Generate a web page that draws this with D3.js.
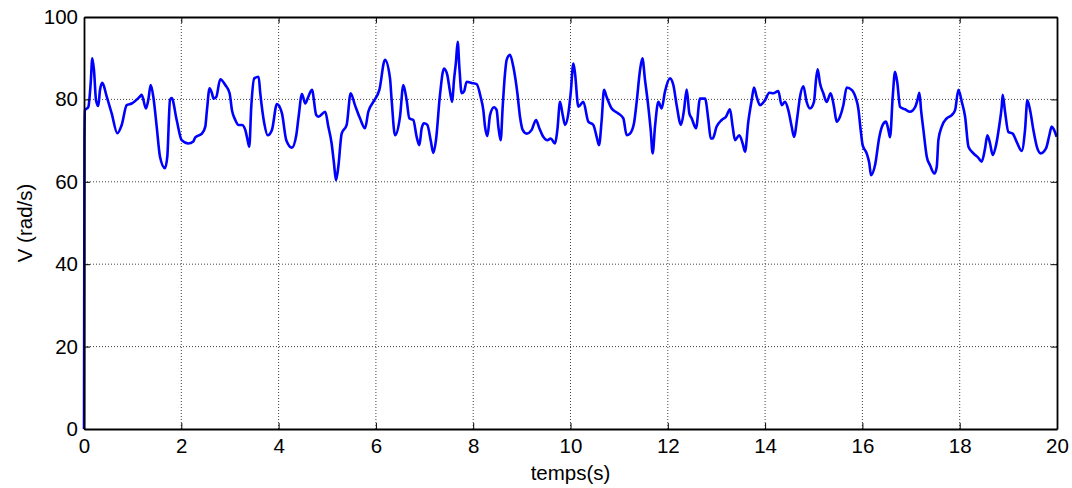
<!DOCTYPE html>
<html>
<head>
<meta charset="utf-8">
<script src="https://cdn.jsdelivr.net/npm/d3@7"></script>
<style>
    body { margin: 0; background: #fff; }
    svg { display: block; font-family: "Liberation Sans", Arial, sans-serif; }
</style>
</head>
<body>
<div id="chart"></div>
<script>
// Axis ticks
const xTicks = [0, 2, 4, 6, 8, 10, 12, 14, 16, 18, 20];
const yTicks = [0, 20, 40, 60, 80, 100];

// Speed signal: time (s) and V (rad/s)
const timeValues = [
    0, 0.01, 0.02, 0.088, 0.138, 0.171, 0.206, 0.247, 0.294, 0.329, 0.376, 0.467, 0.569, 0.684, 0.775, 0.878,
    0.98, 1.151, 1.186, 1.274, 1.322, 1.371, 1.424, 1.494, 1.562, 1.665, 1.712, 1.768, 1.803, 1.905, 2.008,
    2.144, 2.247, 2.287, 2.424, 2.493, 2.527, 2.582, 2.63, 2.664, 2.719, 2.801, 2.904, 2.993, 3.041, 3.11,
    3.178, 3.247, 3.315, 3.363, 3.397, 3.438, 3.5, 3.589, 3.623, 3.705, 3.774, 3.863, 3.966, 4.069, 4.158,
    4.274, 4.363, 4.411, 4.48, 4.548, 4.596, 4.685, 4.774, 4.822, 4.959, 5.022, 5.09, 5.138, 5.179, 5.227,
    5.296, 5.399, 5.481, 5.57, 5.673, 5.776, 5.844, 5.947, 6.071, 6.187, 6.29, 6.324, 6.393, 6.495, 6.564,
    6.632, 6.687, 6.769, 6.838, 6.893, 6.941, 6.989, 7.057, 7.126, 7.181, 7.235, 7.317, 7.4, 7.468, 7.523,
    7.568, 7.605, 7.646, 7.681, 7.715, 7.763, 7.811, 7.866, 7.968, 8.071, 8.153, 8.208, 8.243, 8.291, 8.346,
    8.428, 8.482, 8.517, 8.565, 8.606, 8.654, 8.688, 8.757, 8.825, 8.908, 8.962, 9.017, 9.099, 9.202, 9.291,
    9.36, 9.442, 9.524, 9.593, 9.682, 9.73, 9.785, 9.84, 9.888, 9.956, 10.004, 10.059, 10.093, 10.161, 10.264,
    10.366, 10.469, 10.538, 10.586, 10.641, 10.689, 10.743, 10.846, 10.983, 11.086, 11.154, 11.223, 11.305,
    11.36, 11.429, 11.477, 11.532, 11.6, 11.648, 11.689, 11.737, 11.806, 11.874, 11.942, 12.045, 12.114,
    12.182, 12.271, 12.333, 12.388, 12.443, 12.491, 12.58, 12.662, 12.765, 12.834, 12.882, 12.922, 13.004,
    13.107, 13.196, 13.278, 13.333, 13.381, 13.47, 13.539, 13.587, 13.655, 13.724, 13.772, 13.827, 13.895,
    13.998, 14.087, 14.169, 14.272, 14.34, 14.409, 14.477, 14.546, 14.594, 14.663, 14.717, 14.786, 14.854,
    14.923, 15.005, 15.046, 15.081, 15.128, 15.197, 15.265, 15.348, 15.416, 15.471, 15.539, 15.608, 15.677,
    15.779, 15.868, 15.916, 15.964, 16.005, 16.088, 16.142, 16.177, 16.259, 16.348, 16.417, 16.485, 16.534,
    16.568, 16.623, 16.671, 16.719, 16.774, 16.877, 16.98, 17.083, 17.131, 17.172, 17.206, 17.254, 17.323,
    17.391, 17.48, 17.528, 17.562, 17.631, 17.734, 17.837, 17.905, 17.974, 18.043, 18.111, 18.18, 18.283,
    18.384, 18.452, 18.521, 18.569, 18.624, 18.678, 18.747, 18.815, 18.863, 18.884, 18.932, 19.0, 19.089,
    19.171, 19.274, 19.343, 19.391, 19.453, 19.514, 19.596, 19.665, 19.774, 19.843, 19.891, 19.939, 19.993
];
const speedValues = [
    0, 70, 77.4, 78.1, 84, 90, 87, 79.8, 78.4, 82.3, 84, 80.7, 76.6, 71.8, 73.8, 78.6,
    79, 80.7, 81.1, 77.8, 79.9, 83.5, 80.7, 73.4, 66.1, 63.3, 66.1, 79.9, 80.3, 75, 70.1,
    69.3, 69.8, 70.8, 71.7, 73.4, 77.4, 82.7, 81.5, 80.2, 80.6, 84.9, 83.5, 81.5, 77.4, 75,
    73.8, 73.8, 72.6, 70.1, 68.5, 78.2, 85.1, 85.5, 81.5, 74.2, 71.3, 72.6, 78.9, 76.6, 70.1,
    68.3, 71.3, 75.8, 81.3, 79, 80.2, 82.3, 76.2, 75.8, 77, 73.4, 69.3, 64.5, 60.4, 63.6,
    71.7, 73.8, 81.5, 78.6, 75.4, 73, 77, 79.4, 82.3, 89.6, 85.1, 79.8, 71.3, 75.8, 83.5,
    79.8, 75.4, 75, 70.9, 68.9, 73, 74.2, 73.8, 70.1, 67, 70.1, 81.1, 87.5, 85.9, 81.9,
    79.4, 84.7, 89.1, 94, 87.9, 81.5, 81.9, 84.3, 84, 83.7, 80.6, 77.4, 73.4, 71.1, 76.2,
    78.1, 77.4, 73.4, 70.1, 78.2, 86.3, 89.6, 90.8, 87.9, 81.5, 75.8, 72.6, 71.7, 72.6, 75,
    73, 70.9, 70.1, 70.5, 69.3, 72.6, 79.4, 76.2, 73.8, 76.6, 81.5, 88.7, 86.3, 78.2, 79.4,
    74.6, 73.8, 70.9, 68.9, 75, 82.3, 80.6, 77.8, 76.6, 75.4, 71.3, 71.7, 74.2,
    79.4, 87.1, 90, 84.7, 78.2, 72.6, 66.9, 73.4, 79.4, 77.8, 81.9, 85.1, 83.5,
    78.6, 73.8, 77.4, 82.4, 76.6, 75.4, 73, 80.2, 80.2, 75, 70.5, 70.5, 73.4,
    75, 75.8, 77.6, 73.4, 70.1, 71.3, 69.3, 67.3, 74.6, 79.8, 82.9, 80.6, 78.6,
    79.8, 81.6, 81.5, 82, 78.6, 79.4, 77.4, 73.4, 70.9, 75.8, 80.6, 83.2, 79.4,
    77.8, 79.4, 84.7, 87.3, 83.9, 81.5, 79.4, 81.5, 78.2, 74.6, 75.8, 78.6, 82.9,
    82.3, 80.2, 77.8, 72.6, 68.9, 66.9, 64.5, 61.6, 64, 70.9, 73.8, 74.6, 72.6,
    70.8, 80.6, 86.7, 83.9, 78.2, 77.6, 77, 78.1, 79.8, 81.6, 77.4, 72.6, 66.1,
    64, 62, 63.6, 70.1, 73.4, 75.4, 76.2, 77.4, 82.3, 79.4, 75.8, 68.5, 66.9,
    65.8, 64.9, 68.1, 71.3, 69.3, 66.5, 68.9, 73.8, 78.2, 81.1, 77, 72.1, 71.7,
    69.7, 67.5, 72.6, 79.8, 77, 72.6, 68.1, 66.9, 68.1, 71.3, 73.4, 72.6, 70.9
];

const xLabel = "temps(s)";
const yLabel = "V (rad/s)";

const series = timeValues.map((t, i) => ({ t: t, v: speedValues[i] }));

const totalWidth = 1072, totalHeight = 488;
const margin = { top: 17, right: 15, bottom: 59, left: 84 };
const width = totalWidth - margin.left - margin.right;
const height = totalHeight - margin.top - margin.bottom;

const svg = d3.select("#chart").append("svg")
    .attr("width", totalWidth)
    .attr("height", totalHeight)
    .append("g")
    .attr("transform", `translate(${margin.left},${margin.top})`);

const xScale = d3.scaleLinear().domain([0, 20]).range([0, width]);
const yScale = d3.scaleLinear().domain([0, 100]).range([height, 0]);

// Dotted grid
svg.append("g")
    .selectAll("line")
    .data(xTicks.slice(1, -1))
    .join("line")
    .attr("x1", d => xScale(d)).attr("x2", d => xScale(d))
    .attr("y1", 0).attr("y2", height)
    .attr("stroke", "#444")
    .attr("stroke-width", 1)
    .attr("stroke-dasharray", "1,2");

svg.append("g")
    .selectAll("line")
    .data(yTicks.slice(1, -1))
    .join("line")
    .attr("x1", 0).attr("x2", width)
    .attr("y1", d => yScale(d)).attr("y2", d => yScale(d))
    .attr("stroke", "#444")
    .attr("stroke-width", 1)
    .attr("stroke-dasharray", "1,2");

// Signal
const line = d3.line()
    .x(d => xScale(d.t))
    .y(d => yScale(d.v))
    .curve(d3.curveMonotoneX);

svg.append("path")
    .datum(series)
    .attr("d", line)
    .attr("fill", "none")
    .attr("stroke", "#0000ff")
    .attr("stroke-width", 2.6)
    .attr("stroke-linejoin", "round");

// Axes with inward ticks on all sides
const fontSize = "20.5px";

svg.append("g")
    .attr("transform", `translate(0,${height})`)
    .call(d3.axisBottom(xScale).tickValues(xTicks).tickSize(-6).tickPadding(9).tickSizeOuter(0));
svg.append("g")
    .call(d3.axisLeft(yScale).tickValues(yTicks).tickSize(-6).tickPadding(6).tickSizeOuter(0));
svg.append("g")
    .call(d3.axisTop(xScale).tickValues(xTicks).tickSize(-6).tickFormat("").tickSizeOuter(0));
svg.append("g")
    .attr("transform", `translate(${width},0)`)
    .call(d3.axisRight(yScale).tickValues(yTicks).tickSize(-6).tickFormat("").tickSizeOuter(0));

svg.selectAll(".domain").attr("stroke", "#000").attr("stroke-width", 1.8);
svg.selectAll(".tick line").attr("stroke", "#000").attr("stroke-width", 1);
svg.selectAll(".tick text")
    .attr("font-size", fontSize)
    .attr("font-family", "Liberation Sans, Arial, sans-serif")
    .attr("fill", "#000");

// Axis labels
svg.append("text")
    .attr("x", width / 2)
    .attr("y", height + 51)
    .attr("text-anchor", "middle")
    .attr("font-size", fontSize)
    .attr("fill", "#000")
    .text(xLabel);

svg.append("text")
    .attr("transform", "rotate(-90)")
    .attr("x", -height / 2)
    .attr("y", -52)
    .attr("text-anchor", "middle")
    .attr("font-size", fontSize)
    .attr("fill", "#000")
    .text(yLabel);
</script>
</body>
</html>
